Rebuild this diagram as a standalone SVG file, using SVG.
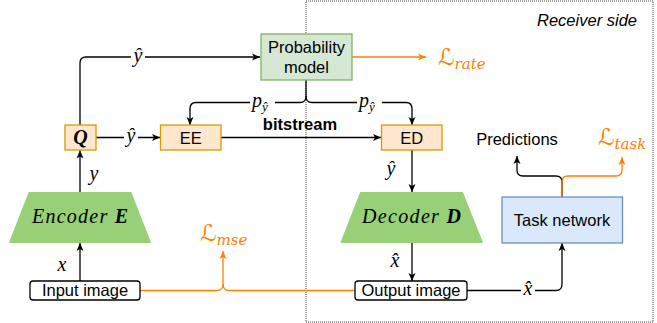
<svg xmlns="http://www.w3.org/2000/svg" width="657" height="323" viewBox="0 0 657 323">
<defs>
<marker id="arr" viewBox="0 0 10 10" refX="9" refY="5" markerWidth="10" markerHeight="10" markerUnits="userSpaceOnUse" orient="auto">
<path d="M1,1.5 L9,5 L1,8.5 L3,5 z" fill="#000"/>
</marker>
<marker id="arrO" viewBox="0 0 10 10" refX="9" refY="5" markerWidth="10" markerHeight="10" markerUnits="userSpaceOnUse" orient="auto">
<path d="M1,1.5 L9,5 L1,8.5 L3,5 z" fill="#FF8000"/>
</marker>
<style>
.t{font-family:"Liberation Sans",Arial,sans-serif;font-size:16.5px;fill:#000}
.m{font-family:"Liberation Serif","DejaVu Serif",serif;font-style:italic;font-size:20px;fill:#000}
.L{font-family:"DejaVu Serif","DejaVu Sans",serif;font-style:italic;fill:#FF8000}
.c{fill:none;stroke:#000;stroke-width:1.3}
.o{fill:none;stroke:#FF8000;stroke-width:1.3}
.bg{fill:#fff}
.ora{fill:#ffe6cc;stroke:#d79b00;stroke-width:1.3}
</style>
</defs>
<rect id="receiver" x="306" y="1" width="347" height="321" fill="none" stroke="#444" stroke-width="1" stroke-dasharray="1 1"/>
<text class="t" x="637" y="26" text-anchor="end" font-style="italic">Receiver side</text>

<g id="connectors">
<path class="c" d="M80,125 V63 Q80,57 86,57 H260" marker-end="url(#arr)"/>
<path class="o" d="M352,57 H426" marker-end="url(#arrO)"/>
<path class="c" d="M306,80 V96 Q306,102.5 300,102.5 H196 Q190,102.5 190,109 V125" marker-end="url(#arr)"/>
<path class="c" d="M306,96 Q306,102.5 312,102.5 H406 Q412,102.5 412,109 V125" marker-end="url(#arr)"/>
<path class="c" d="M96,137.5 H160" marker-end="url(#arr)"/>
<path class="c" d="M221,137.5 H381" marker-end="url(#arr)"/>
<path class="c" d="M80,192 V150.5" marker-end="url(#arr)"/>
<path class="c" d="M80,281 V243" marker-end="url(#arr)"/>
<path class="c" d="M412,150 V192" marker-end="url(#arr)"/>
<path class="c" d="M412,243 V281" marker-end="url(#arr)"/>
<path class="o" d="M140,290.5 H217 Q223,290.5 223,284 V251" marker-end="url(#arrO)"/>
<path class="o" d="M223,284 Q223,290.5 229,290.5 H355"/>
<path class="c" d="M467,290.5 H556 Q562,290.5 562,284 V243" marker-end="url(#arr)"/>
<path class="c" d="M562,197 V182 Q562,176 556,176 H523 Q517,176 517,170 V156" marker-end="url(#arr)"/>
<path class="o" d="M562,197 V182 Q562,176 568,176 H616 Q622,176 622,170 V157" marker-end="url(#arrO)"/>
</g>

<g id="edge-labels">
<rect class="bg" x="131" y="47" width="14" height="19"/>
<text class="m" x="138" y="62" text-anchor="middle">ŷ</text>
<rect class="bg" x="124" y="128" width="14" height="19"/>
<text class="m" x="131" y="142" text-anchor="middle">ŷ</text>
<rect class="bg" x="250" y="93" width="25" height="19"/>
<text class="m" x="252" y="107">p<tspan font-size="13" dy="4">ŷ</tspan></text>
<rect class="bg" x="357" y="93" width="25" height="19"/>
<text class="m" x="359" y="107">p<tspan font-size="13" dy="4">ŷ</tspan></text>
<text class="t" x="300" y="130" text-anchor="middle" font-weight="bold">bitstream</text>
<text class="m" x="94" y="180" text-anchor="middle">y</text>
<text class="m" x="62" y="271" text-anchor="middle">x</text>
<text class="m" x="391" y="175" text-anchor="middle">ŷ</text>
<text class="m" x="395" y="267" text-anchor="middle">x̂</text>
<rect class="bg" x="521" y="281" width="14" height="18"/>
<text class="m" x="528" y="295" text-anchor="middle">x̂</text>
<text class="L" x="438" y="65" font-size="23">ℒ<tspan font-size="15" dy="4">rate</tspan></text>
<text class="L" x="200" y="241" font-size="23">ℒ<tspan font-size="15" dy="4">mse</tspan></text>
<text class="L" x="598" y="145" font-size="23">ℒ<tspan font-size="15" dy="4">task</tspan></text>
</g>

<g id="prob-model">
<rect x="261" y="34" width="91" height="46" fill="#d5e8d4" stroke="#82b366" stroke-width="1.3"/>
<text class="t" x="306.5" y="53" text-anchor="middle">Probability</text>
<text class="t" x="306.5" y="73" text-anchor="middle">model</text>
</g>
<g id="quantizer">
<rect class="ora" x="65" y="125" width="31" height="25"/>
<text class="m" x="80.5" y="144" text-anchor="middle" font-weight="bold" font-size="21">Q</text>
</g>
<g id="ee">
<rect class="ora" x="160.5" y="125" width="60.5" height="25"/>
<text class="t" x="190.7" y="144" text-anchor="middle">EE</text>
</g>
<g id="ed">
<rect class="ora" x="381.5" y="125" width="60.5" height="25"/>
<text class="t" x="411.7" y="144" text-anchor="middle">ED</text>
</g>
<g id="encoder">
<polygon points="29,192.5 131,192.5 150.5,242.5 9.5,242.5" fill="#97d077" stroke="#97d077" stroke-width="1"/>
<text class="m" x="32" y="223" font-size="22" textLength="96" lengthAdjust="spacing">Encoder <tspan font-weight="bold">E</tspan></text>
</g>
<g id="decoder">
<polygon points="360.5,192.5 462.5,192.5 482.5,242.5 341,242.5" fill="#97d077" stroke="#97d077" stroke-width="1"/>
<text class="m" x="362" y="223" font-size="22" textLength="99" lengthAdjust="spacing">Decoder <tspan font-weight="bold">D</tspan></text>
</g>
<g id="input-image">
<rect x="30" y="281" width="110" height="19" rx="3" fill="#fff" stroke="#000" stroke-width="1.3"/>
<text class="t" x="85" y="296" text-anchor="middle">Input image</text>
</g>
<g id="output-image">
<rect x="355" y="281" width="112" height="19" rx="3" fill="#fff" stroke="#000" stroke-width="1.3"/>
<text class="t" x="411" y="296" text-anchor="middle">Output image</text>
</g>
<g id="task-network">
<rect x="502" y="197" width="120.5" height="46" fill="#dae8fc" stroke="#6c8ebf" stroke-width="1.3"/>
<text class="t" x="562" y="226" text-anchor="middle">Task network</text>
</g>
<g id="predictions">
<text class="t" x="517" y="145" text-anchor="middle">Predictions</text>
</g>
</svg>
